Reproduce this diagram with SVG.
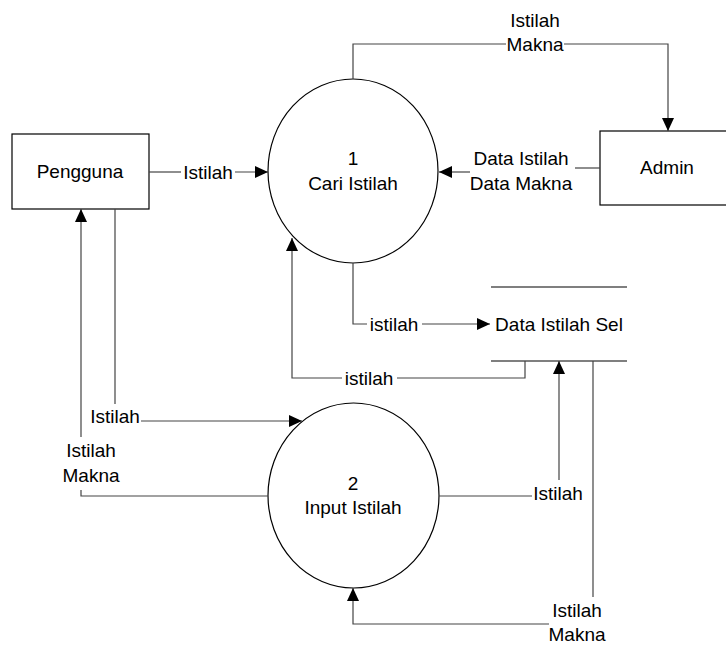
<svg xmlns="http://www.w3.org/2000/svg" width="726" height="645" viewBox="0 0 726 645">
<style>
text{font-family:"Liberation Sans",Arial,sans-serif;font-size:19px;fill:#000;text-anchor:middle}
.shape{fill:#fff;stroke:#000;stroke-width:1.2}
.c{fill:none;stroke:#444;stroke-width:1.2}
.store{stroke:#000;stroke-width:1.2}
</style>
<defs>
<marker id="ah" markerUnits="userSpaceOnUse" markerWidth="13" markerHeight="12" refX="13" refY="6" orient="auto">
<path d="M0,0 L13,6 L0,12 Z" fill="#000"/>
</marker>
</defs>
<rect width="726" height="645" fill="#fff"/>
<g id="pengguna">
<rect class="shape" x="12" y="134" width="137" height="75"/>
<text x="80" y="178">Pengguna</text>
</g>
<g id="admin">
<rect class="shape" x="600" y="131" width="140" height="74"/>
<text x="667" y="174">Admin</text>
</g>
<g id="p1">
<ellipse class="shape" cx="353" cy="171" rx="85" ry="92"/>
<text x="353" y="165">1</text>
<text x="353" y="190">Cari Istilah</text>
</g>
<g id="p2">
<ellipse class="shape" cx="353.5" cy="495.5" rx="85.5" ry="92.5"/>
<text x="353" y="490">2</text>
<text x="353" y="514">Input Istilah</text>
</g>
<g id="datastore">
<path class="store" d="M491,287 H627 M491,361 H627"/>
<text x="559" y="331">Data Istilah Sel</text>
</g>
<g id="connectors">
<path class="c" d="M149,172 H181"/>
<path class="c" d="M235,172 H268" marker-end="url(#ah)"/>
<text x="208" y="179">Istilah</text>

<path class="c" d="M353,79 V44 H506"/>
<path class="c" d="M564,44 H668 V131" marker-end="url(#ah)"/>
<text x="535" y="27">Istilah</text>
<text x="535" y="51">Makna</text>

<path class="c" d="M600,168 H575"/>
<path class="c" d="M470,172 H439" marker-end="url(#ah)"/>
<text x="521" y="165">Data Istilah</text>
<text x="521" y="190">Data Makna</text>

<path class="c" d="M353,263 V324 H367"/>
<path class="c" d="M422,324 H490" marker-end="url(#ah)"/>
<text x="394" y="331">istilah</text>

<path class="c" d="M525,361 V378 H397"/>
<path class="c" d="M342,378 H292 V238" marker-end="url(#ah)"/>
<text x="369" y="385">istilah</text>

<path class="c" d="M115,209 V404"/>
<path class="c" d="M141,421 H302" marker-end="url(#ah)"/>
<text x="115" y="423">Istilah</text>

<path class="c" d="M268,496 H81 V490"/>
<path class="c" d="M81,437 V209" marker-end="url(#ah)"/>
<text x="91" y="457">Istilah</text>
<text x="91" y="482">Makna</text>

<path class="c" d="M439,496 H532"/>
<path class="c" d="M559,480 V361" marker-end="url(#ah)"/>
<text x="558" y="500">Istilah</text>

<path class="c" d="M593,361 V597"/>
<path class="c" d="M549,624 H353 V588" marker-end="url(#ah)"/>
<text x="577" y="617">Istilah</text>
<text x="577" y="641">Makna</text>
</g>
</svg>
